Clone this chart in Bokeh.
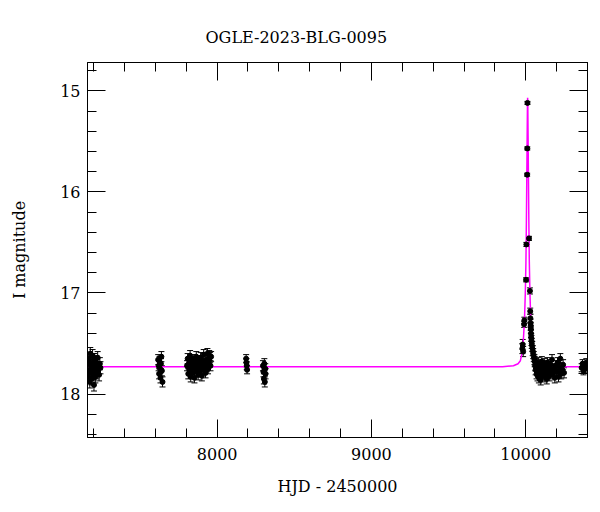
from bokeh.plotting import figure
from bokeh.models import (ColumnDataSource, Whisker, TeeHead, LinearAxis, Range1d,
                          SingleIntervalTicker, CustomLabelingPolicy)
from bokeh.embed import file_html
from bokeh.resources import INLINE

TITLE = "OGLE-2023-BLG-0095"
XLABEL = "HJD - 2450000"
YLABEL = "I magnitude"

t_s1 = [7163, 7166, 7170, 7172, 7175, 7178, 7181, 7184, 7187, 7190, 7193, 7196, 7199,
        7202, 7205, 7208, 7211, 7214, 7218, 7222, 7226, 7230, 7235, 7240, 7244]
m_s1 = [17.70, 17.82, 17.65, 17.78, 17.88, 17.60, 17.74, 17.69, 17.85, 17.77, 17.62, 17.80, 17.72,
        17.91, 17.66, 17.75, 17.83, 17.68, 17.79, 17.71, 17.64, 17.76, 17.81, 17.70, 17.74]
e_s1 = 0.06

t_s2 = [7618, 7621, 7624, 7627, 7630, 7633, 7636, 7639, 7642, 7646]
m_s2 = [17.66, 17.72, 17.80, 17.68, 17.75, 17.84, 17.70, 17.63, 17.77, 17.88]
e_s2 = 0.05

t_s3 = [7805, 7809, 7813, 7817, 7821, 7825, 7829, 7833, 7837, 7841, 7845, 7849, 7853, 7857,
        7861, 7865, 7869, 7873, 7877, 7881, 7885, 7889, 7893, 7897, 7901, 7905, 7909, 7913,
        7917, 7921, 7925, 7929, 7933, 7937, 7941, 7945, 7949, 7953, 7957, 7961]
m_s3 = [17.72, 17.65, 17.80, 17.70, 17.76, 17.62, 17.83, 17.68, 17.74, 17.79, 17.66, 17.71, 17.84, 17.69,
        17.75, 17.63, 17.78, 17.72, 17.81, 17.67, 17.73, 17.77, 17.64, 17.70, 17.82, 17.68, 17.74, 17.61,
        17.76, 17.71, 17.79, 17.66, 17.73, 17.60, 17.75, 17.69, 17.62, 17.64, 17.72, 17.63]
e_s3 = 0.05

t_s4 = [8188, 8190, 8192, 8194]
m_s4 = [17.65, 17.69, 17.72, 17.76]
e_s4 = 0.04

t_s5 = [8297, 8300, 8303, 8306, 8309, 8312, 8314]
m_s5 = [17.72, 17.78, 17.85, 17.70, 17.88, 17.75, 17.80]
e_s5 = 0.05

t_ev = [9978, 9980, 9983, 9989, 9991, 10002, 10004, 10009, 10010, 10011, 10021, 10027, 10029,
        10030, 10031, 10032, 10033, 10034, 10035, 10037, 10039, 10042, 10045, 10048, 10052, 10056]
m_ev = [17.55, 17.51, 17.58, 17.31, 17.27, 16.87, 16.52, 15.83, 15.57, 15.12, 16.46, 16.98, 17.18,
        17.25, 17.30, 17.33, 17.36, 17.40, 17.44, 17.47, 17.50, 17.53, 17.57, 17.60, 17.63, 17.66]
e_ev = [0.05, 0.05, 0.05, 0.03, 0.03, 0.02, 0.02, 0.015, 0.015, 0.015, 0.02, 0.03, 0.03,
        0.04, 0.04, 0.04, 0.04, 0.04, 0.04, 0.05, 0.05, 0.05, 0.05, 0.05, 0.05, 0.05]

t_tail = [10058, 10061, 10064, 10067, 10070, 10073, 10076, 10079, 10082, 10085, 10088, 10091,
          10094, 10097, 10100, 10104, 10108, 10112, 10116, 10120, 10124, 10128, 10132, 10136,
          10140, 10145, 10150, 10155, 10160, 10165, 10170, 10176, 10182, 10188, 10194, 10200,
          10206, 10212, 10218, 10224, 10230, 10236, 10242, 10248]
m_tail = [17.68, 17.72, 17.76, 17.70, 17.80, 17.74, 17.82, 17.69, 17.77, 17.84, 17.73, 17.79,
          17.71, 17.86, 17.75, 17.68, 17.81, 17.74, 17.78, 17.70, 17.83, 17.76, 17.72, 17.85,
          17.69, 17.79, 17.74, 17.82, 17.71, 17.77, 17.66, 17.80, 17.75, 17.84, 17.72, 17.78,
          17.69, 17.83, 17.74, 17.65, 17.80, 17.76, 17.71, 17.79]
e_tail = 0.05

t_s7 = [10362, 10368, 10374, 10380, 10386, 10392, 10398]
m_s7 = [17.74, 17.70, 17.77, 17.72, 17.75, 17.69, 17.73]
e_s7 = 0.04

# --- model curve ---
model_t = [7160, 9700, 9850, 9920, 9950, 9965, 9975, 9985, 9992, 9997, 10001, 10004, 10007,
           10009, 10011, 10012, 10013, 10015, 10017, 10020, 10023, 10027, 10032, 10039, 10047,
           10059, 10075, 10100, 10140, 10200, 10400]
model_m = [17.73, 17.73, 17.73, 17.72, 17.70, 17.67, 17.60, 17.45, 17.25, 17.00, 16.70, 16.30, 15.80,
           15.45, 15.12, 15.07, 15.12, 15.45, 15.80, 16.30, 16.70, 17.00, 17.25, 17.45, 17.58,
           17.67, 17.70, 17.72, 17.73, 17.73, 17.73]

# --- assemble ---
t_all, m_all, e_all = [], [], []
for ts, ms, es in [(t_s1, m_s1, e_s1), (t_s2, m_s2, e_s2), (t_s3, m_s3, e_s3),
                   (t_s4, m_s4, e_s4), (t_s5, m_s5, e_s5), (t_ev, m_ev, e_ev),
                   (t_tail, m_tail, e_tail), (t_s7, m_s7, e_s7)]:
    errs = es if isinstance(es, list) else [es] * len(ts)
    t_all += ts
    m_all += ms
    e_all += errs

src = ColumnDataSource(dict(
    t=t_all, m=m_all,
    up=[m - e for m, e in zip(m_all, e_all)],
    lo=[m + e for m, e in zip(m_all, e_all)],
))

FONT = "DejaVu Serif"

p = figure(width=600, height=512, output_backend="svg", toolbar_location=None,
           x_range=Range1d(7160, 10400), y_range=Range1d(18.43, 14.72),
           min_border_left=87, min_border_right=13, min_border_top=62, min_border_bottom=75,
           title=TITLE)
p.xgrid.visible = False
p.ygrid.visible = False
p.outline_line_color = "black"
p.background_fill_color = "white"
p.border_fill_color = "white"

p.title.text_font = FONT
p.title.text_font_size = "16px"
p.title.text_font_style = "normal"
p.title.text_color = "black"
p.title.align = "left"
p.title.offset = 118
p.title.standoff = 32

bottom = p.below[0]
left = p.left[0]
top = LinearAxis()
right = LinearAxis()
p.add_layout(top, "above")
p.add_layout(right, "right")

for ax in (bottom, top):
    ax.ticker = SingleIntervalTicker(interval=1000, num_minor_ticks=5)
for ax in (left, right):
    ax.ticker = SingleIntervalTicker(interval=1, num_minor_ticks=5)

for ax in (bottom, left, top, right):
    ax.major_tick_in = 18
    ax.major_tick_out = 0
    ax.minor_tick_in = 9
    ax.minor_tick_out = 0
    ax.axis_line_color = "black"
    ax.major_tick_line_color = "black"
    ax.minor_tick_line_color = "black"
    ax.major_label_text_font = FONT
    ax.major_label_text_font_size = "16px"
    ax.major_label_text_color = "black"
    ax.axis_label_text_font = FONT
    ax.axis_label_text_font_size = "16px"
    ax.axis_label_text_font_style = "normal"
    ax.axis_label_text_color = "black"

bottom.axis_label = XLABEL
bottom.major_label_standoff = 10
bottom.axis_label_standoff = 14
left.axis_label = YLABEL
left.major_label_standoff = 7
left.axis_label_standoff = 28
left.major_label_orientation = "horizontal"

# unlabeled top / right axes: draw no tick labels at all
for ax in (top, right):
    ax.major_label_policy = CustomLabelingPolicy(code="return []")
    ax.major_label_text_font_size = "0px"
    ax.major_label_standoff = 0

# model
p.line(model_t, model_m, line_color="#ff00ff", line_width=1.5)

# error bars & points
wh = Whisker(source=src, base="t", upper="up", lower="lo", dimension="height",
             line_color="black", line_width=1,
             upper_head=TeeHead(size=6, line_color="black", line_width=1),
             lower_head=TeeHead(size=6, line_color="black", line_width=1))
p.add_layout(wh)
p.scatter("t", "m", source=src, size=5, color="black", marker="circle")

open("out.html", "w").write(file_html(p, INLINE))
